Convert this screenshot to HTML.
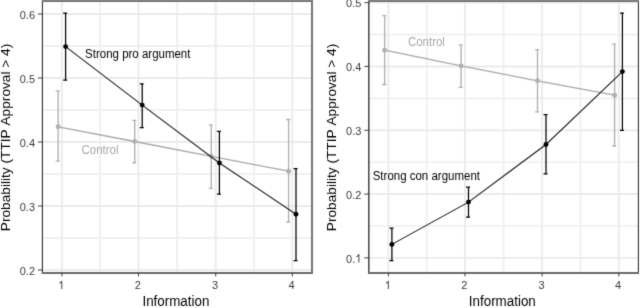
<!DOCTYPE html>
<html><head><meta charset="utf-8"><style>
html,body{margin:0;padding:0;background:#fff;width:640px;height:308px;overflow:hidden}
svg{display:block}
text{font-family:"Liberation Sans",sans-serif;font-kerning:none}
.tk{font-size:11px;fill:#3a3a3a}
.ti{font-size:13.4px;fill:#000}
.ty{font-size:13.7px;fill:#000}
.an{font-size:11.5px}
</style></head><body>
<svg width="640" height="308" viewBox="0 0 640 308">
<defs><filter id="b" filterUnits="userSpaceOnUse" x="-10" y="-10" width="660" height="328" color-interpolation-filters="sRGB"><feConvolveMatrix order="3" kernelMatrix="0.0144 0.0912 0.0144 0.0912 0.5776 0.0912 0.0144 0.0912 0.0144" preserveAlpha="true" edgeMode="duplicate"/></filter></defs>
<rect width="640" height="308" fill="#fff"/>
<g filter="url(#b)">
<rect x="-10" y="-10" width="660" height="328" fill="#fff"/>
<line x1="100.20" y1="0" x2="100.20" y2="273" stroke="#f0f0f0" stroke-width="1.8"/>
<line x1="177.10" y1="0" x2="177.10" y2="273" stroke="#f0f0f0" stroke-width="1.8"/>
<line x1="254.00" y1="0" x2="254.00" y2="273" stroke="#f0f0f0" stroke-width="1.8"/>
<line x1="42.5" y1="46.00" x2="312" y2="46.00" stroke="#f0f0f0" stroke-width="1.8"/>
<line x1="42.5" y1="110.00" x2="312" y2="110.00" stroke="#f0f0f0" stroke-width="1.8"/>
<line x1="42.5" y1="174.00" x2="312" y2="174.00" stroke="#f0f0f0" stroke-width="1.8"/>
<line x1="42.5" y1="238.00" x2="312" y2="238.00" stroke="#f0f0f0" stroke-width="1.8"/>
<line x1="61.9" y1="0" x2="61.9" y2="273" stroke="#ebebeb" stroke-width="1.9"/>
<line x1="138.5" y1="0" x2="138.5" y2="273" stroke="#ebebeb" stroke-width="1.9"/>
<line x1="215.7" y1="0" x2="215.7" y2="273" stroke="#ebebeb" stroke-width="1.9"/>
<line x1="292.3" y1="0" x2="292.3" y2="273" stroke="#ebebeb" stroke-width="1.9"/>
<line x1="42.5" y1="14.00" x2="312" y2="14.00" stroke="#ebebeb" stroke-width="1.9"/>
<line x1="42.5" y1="78.00" x2="312" y2="78.00" stroke="#ebebeb" stroke-width="1.9"/>
<line x1="42.5" y1="142.00" x2="312" y2="142.00" stroke="#ebebeb" stroke-width="1.9"/>
<line x1="42.5" y1="206.00" x2="312" y2="206.00" stroke="#ebebeb" stroke-width="1.9"/>
<line x1="42.5" y1="270.00" x2="312" y2="270.00" stroke="#ebebeb" stroke-width="1.9"/>
<line x1="42.4" y1="0" x2="42.4" y2="274" stroke="#1a1a1a" stroke-width="1.0"/>
<line x1="312" y1="0" x2="312" y2="274" stroke="#555" stroke-width="1.6"/>
<line x1="41.9" y1="1" x2="313" y2="1" stroke="#727272" stroke-width="2"/>
<line x1="41.9" y1="273" x2="313" y2="273" stroke="#6a6a6a" stroke-width="2"/>
<line x1="37.90" y1="14.00" x2="42.5" y2="14.00" stroke="#333" stroke-width="0.95"/>
<text transform="translate(35.00,18.70) scale(1,1.07)" text-anchor="end" class="tk">0.6</text>
<line x1="37.90" y1="78.00" x2="42.5" y2="78.00" stroke="#333" stroke-width="0.95"/>
<text transform="translate(35.00,82.70) scale(1,1.07)" text-anchor="end" class="tk">0.5</text>
<line x1="37.90" y1="142.00" x2="42.5" y2="142.00" stroke="#333" stroke-width="0.95"/>
<text transform="translate(35.00,146.70) scale(1,1.07)" text-anchor="end" class="tk">0.4</text>
<line x1="37.90" y1="206.00" x2="42.5" y2="206.00" stroke="#333" stroke-width="0.95"/>
<text transform="translate(35.00,210.70) scale(1,1.07)" text-anchor="end" class="tk">0.3</text>
<line x1="37.90" y1="270.00" x2="42.5" y2="270.00" stroke="#333" stroke-width="0.95"/>
<text transform="translate(35.00,274.70) scale(1,1.07)" text-anchor="end" class="tk">0.2</text>
<line x1="61.9" y1="273" x2="61.9" y2="276.4" stroke="#333" stroke-width="0.95"/>
<path transform="translate(58.19,288.90) scale(0.01100,-0.01142)" d="M372,0L284,0L284,560Q252,530 200,500Q150,470 106,453L106,538Q180,573 235,623Q291,673 314,716L372,716Z" fill="#3a3a3a"/>
<line x1="138.5" y1="273" x2="138.5" y2="276.4" stroke="#333" stroke-width="0.95"/>
<text transform="translate(137.85,288.9) scale(1,1.07)" text-anchor="middle" class="tk">2</text>
<line x1="215.7" y1="273" x2="215.7" y2="276.4" stroke="#333" stroke-width="0.95"/>
<text transform="translate(215.05,288.9) scale(1,1.07)" text-anchor="middle" class="tk">3</text>
<line x1="292.3" y1="273" x2="292.3" y2="276.4" stroke="#333" stroke-width="0.95"/>
<text transform="translate(291.65,288.9) scale(1,1.07)" text-anchor="middle" class="tk">4</text>
<text transform="translate(175.90,306.4) scale(1,1.05)" text-anchor="middle" class="ti">Information</text>
<text transform="translate(10.00,137.5) rotate(-90)" text-anchor="middle" class="ty">Probability (TTIP Approval &gt; 4)</text>
<line x1="426.70" y1="0" x2="426.70" y2="273" stroke="#f0f0f0" stroke-width="1.8"/>
<line x1="503.55" y1="0" x2="503.55" y2="273" stroke="#f0f0f0" stroke-width="1.8"/>
<line x1="580.45" y1="0" x2="580.45" y2="273" stroke="#f0f0f0" stroke-width="1.8"/>
<line x1="368.85" y1="34.55" x2="638.5" y2="34.55" stroke="#f0f0f0" stroke-width="1.8"/>
<line x1="368.85" y1="98.35" x2="638.5" y2="98.35" stroke="#f0f0f0" stroke-width="1.8"/>
<line x1="368.85" y1="162.15" x2="638.5" y2="162.15" stroke="#f0f0f0" stroke-width="1.8"/>
<line x1="368.85" y1="225.95" x2="638.5" y2="225.95" stroke="#f0f0f0" stroke-width="1.8"/>
<line x1="388.4" y1="0" x2="388.4" y2="273" stroke="#ebebeb" stroke-width="1.9"/>
<line x1="465.0" y1="0" x2="465.0" y2="273" stroke="#ebebeb" stroke-width="1.9"/>
<line x1="542.1" y1="0" x2="542.1" y2="273" stroke="#ebebeb" stroke-width="1.9"/>
<line x1="618.8" y1="0" x2="618.8" y2="273" stroke="#ebebeb" stroke-width="1.9"/>
<line x1="368.85" y1="2.65" x2="638.5" y2="2.65" stroke="#ebebeb" stroke-width="1.9"/>
<line x1="368.85" y1="66.45" x2="638.5" y2="66.45" stroke="#ebebeb" stroke-width="1.9"/>
<line x1="368.85" y1="130.25" x2="638.5" y2="130.25" stroke="#ebebeb" stroke-width="1.9"/>
<line x1="368.85" y1="194.05" x2="638.5" y2="194.05" stroke="#ebebeb" stroke-width="1.9"/>
<line x1="368.85" y1="257.85" x2="638.5" y2="257.85" stroke="#ebebeb" stroke-width="1.9"/>
<line x1="368.8" y1="0" x2="368.8" y2="274" stroke="#4d4d4d" stroke-width="1.6"/>
<line x1="638.4" y1="0" x2="638.4" y2="274" stroke="#2a2a2a" stroke-width="1.05"/>
<line x1="368" y1="1" x2="639" y2="1" stroke="#727272" stroke-width="2"/>
<line x1="368" y1="273" x2="639" y2="273" stroke="#6a6a6a" stroke-width="2"/>
<line x1="364.30" y1="2.65" x2="368.85" y2="2.65" stroke="#333" stroke-width="0.95"/>
<text transform="translate(361.40,7.35) scale(1,1.07)" text-anchor="end" class="tk">0.5</text>
<line x1="364.30" y1="66.45" x2="368.85" y2="66.45" stroke="#333" stroke-width="0.95"/>
<text transform="translate(361.40,71.15) scale(1,1.07)" text-anchor="end" class="tk">0.4</text>
<line x1="364.30" y1="130.25" x2="368.85" y2="130.25" stroke="#333" stroke-width="0.95"/>
<text transform="translate(361.40,134.95) scale(1,1.07)" text-anchor="end" class="tk">0.3</text>
<line x1="364.30" y1="194.05" x2="368.85" y2="194.05" stroke="#333" stroke-width="0.95"/>
<text transform="translate(361.40,198.75) scale(1,1.07)" text-anchor="end" class="tk">0.2</text>
<line x1="364.30" y1="257.85" x2="368.85" y2="257.85" stroke="#333" stroke-width="0.95"/>
<text transform="translate(355.28,262.55) scale(1,1.07)" text-anchor="end" class="tk">0.</text>
<path transform="translate(355.28,262.55) scale(0.01100,-0.01177)" d="M372,0L284,0L284,560Q252,530 200,500Q150,470 106,453L106,538Q180,573 235,623Q291,673 314,716L372,716Z" fill="#3a3a3a"/>
<line x1="388.4" y1="273" x2="388.4" y2="276.4" stroke="#333" stroke-width="0.95"/>
<path transform="translate(384.69,288.90) scale(0.01100,-0.01142)" d="M372,0L284,0L284,560Q252,530 200,500Q150,470 106,453L106,538Q180,573 235,623Q291,673 314,716L372,716Z" fill="#3a3a3a"/>
<line x1="465.0" y1="273" x2="465.0" y2="276.4" stroke="#333" stroke-width="0.95"/>
<text transform="translate(464.35,288.9) scale(1,1.07)" text-anchor="middle" class="tk">2</text>
<line x1="542.1" y1="273" x2="542.1" y2="276.4" stroke="#333" stroke-width="0.95"/>
<text transform="translate(541.45,288.9) scale(1,1.07)" text-anchor="middle" class="tk">3</text>
<line x1="618.8" y1="273" x2="618.8" y2="276.4" stroke="#333" stroke-width="0.95"/>
<text transform="translate(618.15,288.9) scale(1,1.07)" text-anchor="middle" class="tk">4</text>
<text transform="translate(502.30,306.4) scale(1,1.05)" text-anchor="middle" class="ti">Information</text>
<text transform="translate(336.40,137.5) rotate(-90)" text-anchor="middle" class="ty">Probability (TTIP Approval &gt; 4)</text>
<polyline points="58.15,126.8 134.7,141.5 211.3,156.3 288.6,171.2" fill="none" stroke="#a8a8a8" stroke-width="1.3"/>
<path d="M58.15,90.9V161.1M55.70,90.9H59.70M55.70,161.1H59.70" stroke="#b0b0b0" stroke-width="1.35" fill="none"/>
<circle cx="58.15" cy="126.8" r="2.45" fill="#b0b0b0"/>
<path d="M134.7,120.3V162.9M132.25,120.3H136.25M132.25,162.9H136.25" stroke="#b0b0b0" stroke-width="1.35" fill="none"/>
<circle cx="134.7" cy="141.5" r="2.45" fill="#b0b0b0"/>
<path d="M211.3,124.9V188.3M208.85,124.9H212.85M208.85,188.3H212.85" stroke="#b0b0b0" stroke-width="1.35" fill="none"/>
<circle cx="211.3" cy="156.3" r="2.45" fill="#b0b0b0"/>
<path d="M288.6,119.5V222.0M286.15,119.5H290.15M286.15,222.0H290.15" stroke="#b0b0b0" stroke-width="1.35" fill="none"/>
<circle cx="288.6" cy="171.2" r="2.45" fill="#b0b0b0"/>
<polyline points="65.6,46.6 142.2,105.1 219.4,163.0 296.0,214.2" fill="none" stroke="#1a1a1a" stroke-width="1.05"/>
<path d="M65.6,13.0V80.0M63.15,13.0H67.15M63.15,80.0H67.15" stroke="#000" stroke-width="1.25" fill="none"/>
<circle cx="65.6" cy="46.6" r="2.45" fill="#000"/>
<path d="M142.2,83.9V127.5M139.75,83.9H143.75M139.75,127.5H143.75" stroke="#000" stroke-width="1.25" fill="none"/>
<circle cx="142.2" cy="105.1" r="2.45" fill="#000"/>
<path d="M219.4,131.4V194.2M216.95,131.4H220.95M216.95,194.2H220.95" stroke="#000" stroke-width="1.25" fill="none"/>
<circle cx="219.4" cy="163.0" r="2.45" fill="#000"/>
<path d="M296.0,168.5V260.7M293.55,168.5H297.55M293.55,260.7H297.55" stroke="#000" stroke-width="1.25" fill="none"/>
<circle cx="296.0" cy="214.2" r="2.45" fill="#000"/>
<polyline points="384.65,50.2 461.1,65.9 537.5,80.8 614.6,95.2" fill="none" stroke="#a8a8a8" stroke-width="1.3"/>
<path d="M384.65,15.6V84.5M382.20,15.6H386.20M382.20,84.5H386.20" stroke="#b0b0b0" stroke-width="1.35" fill="none"/>
<circle cx="384.65" cy="50.2" r="2.45" fill="#b0b0b0"/>
<path d="M461.1,44.8V87.3M458.65,44.8H462.65M458.65,87.3H462.65" stroke="#b0b0b0" stroke-width="1.35" fill="none"/>
<circle cx="461.1" cy="65.9" r="2.45" fill="#b0b0b0"/>
<path d="M537.5,49.6V111.8M535.05,49.6H539.05M535.05,111.8H539.05" stroke="#b0b0b0" stroke-width="1.35" fill="none"/>
<circle cx="537.5" cy="80.8" r="2.45" fill="#b0b0b0"/>
<path d="M614.6,44.1V146M612.15,44.1H616.15M612.15,146H616.15" stroke="#b0b0b0" stroke-width="1.35" fill="none"/>
<circle cx="614.6" cy="95.2" r="2.45" fill="#b0b0b0"/>
<polyline points="391.9,244.4 468.5,202.1 546.0,144.5 622.4,71.6" fill="none" stroke="#1a1a1a" stroke-width="1.05"/>
<path d="M391.9,228.1V260.6M389.45,228.1H393.45M389.45,260.6H393.45" stroke="#000" stroke-width="1.25" fill="none"/>
<circle cx="391.9" cy="244.4" r="2.45" fill="#000"/>
<path d="M468.5,187.1V217.1M466.05,187.1H470.05M466.05,217.1H470.05" stroke="#000" stroke-width="1.25" fill="none"/>
<circle cx="468.5" cy="202.1" r="2.45" fill="#000"/>
<path d="M546.0,114.5V173.8M543.55,114.5H547.55M543.55,173.8H547.55" stroke="#000" stroke-width="1.25" fill="none"/>
<circle cx="546.0" cy="144.5" r="2.45" fill="#000"/>
<path d="M622.4,13V130.3M619.95,13H623.95M619.95,130.3H623.95" stroke="#000" stroke-width="1.25" fill="none"/>
<circle cx="622.4" cy="71.6" r="2.45" fill="#000"/>
<text transform="translate(85.1,57.70) scale(1,1.08)" class="an" fill="#000">Strong pro argument</text>
<text transform="translate(81.5,153.50) scale(1,1.08)" class="an" fill="#a8a8a8">Control</text>
<text transform="translate(407.9,46.20) scale(1,1.08)" class="an" fill="#a8a8a8">Control</text>
<text transform="translate(372.7,180.40) scale(1,1.08)" class="an" fill="#000">Strong con argument</text>
</g>
</svg>
</body></html>
